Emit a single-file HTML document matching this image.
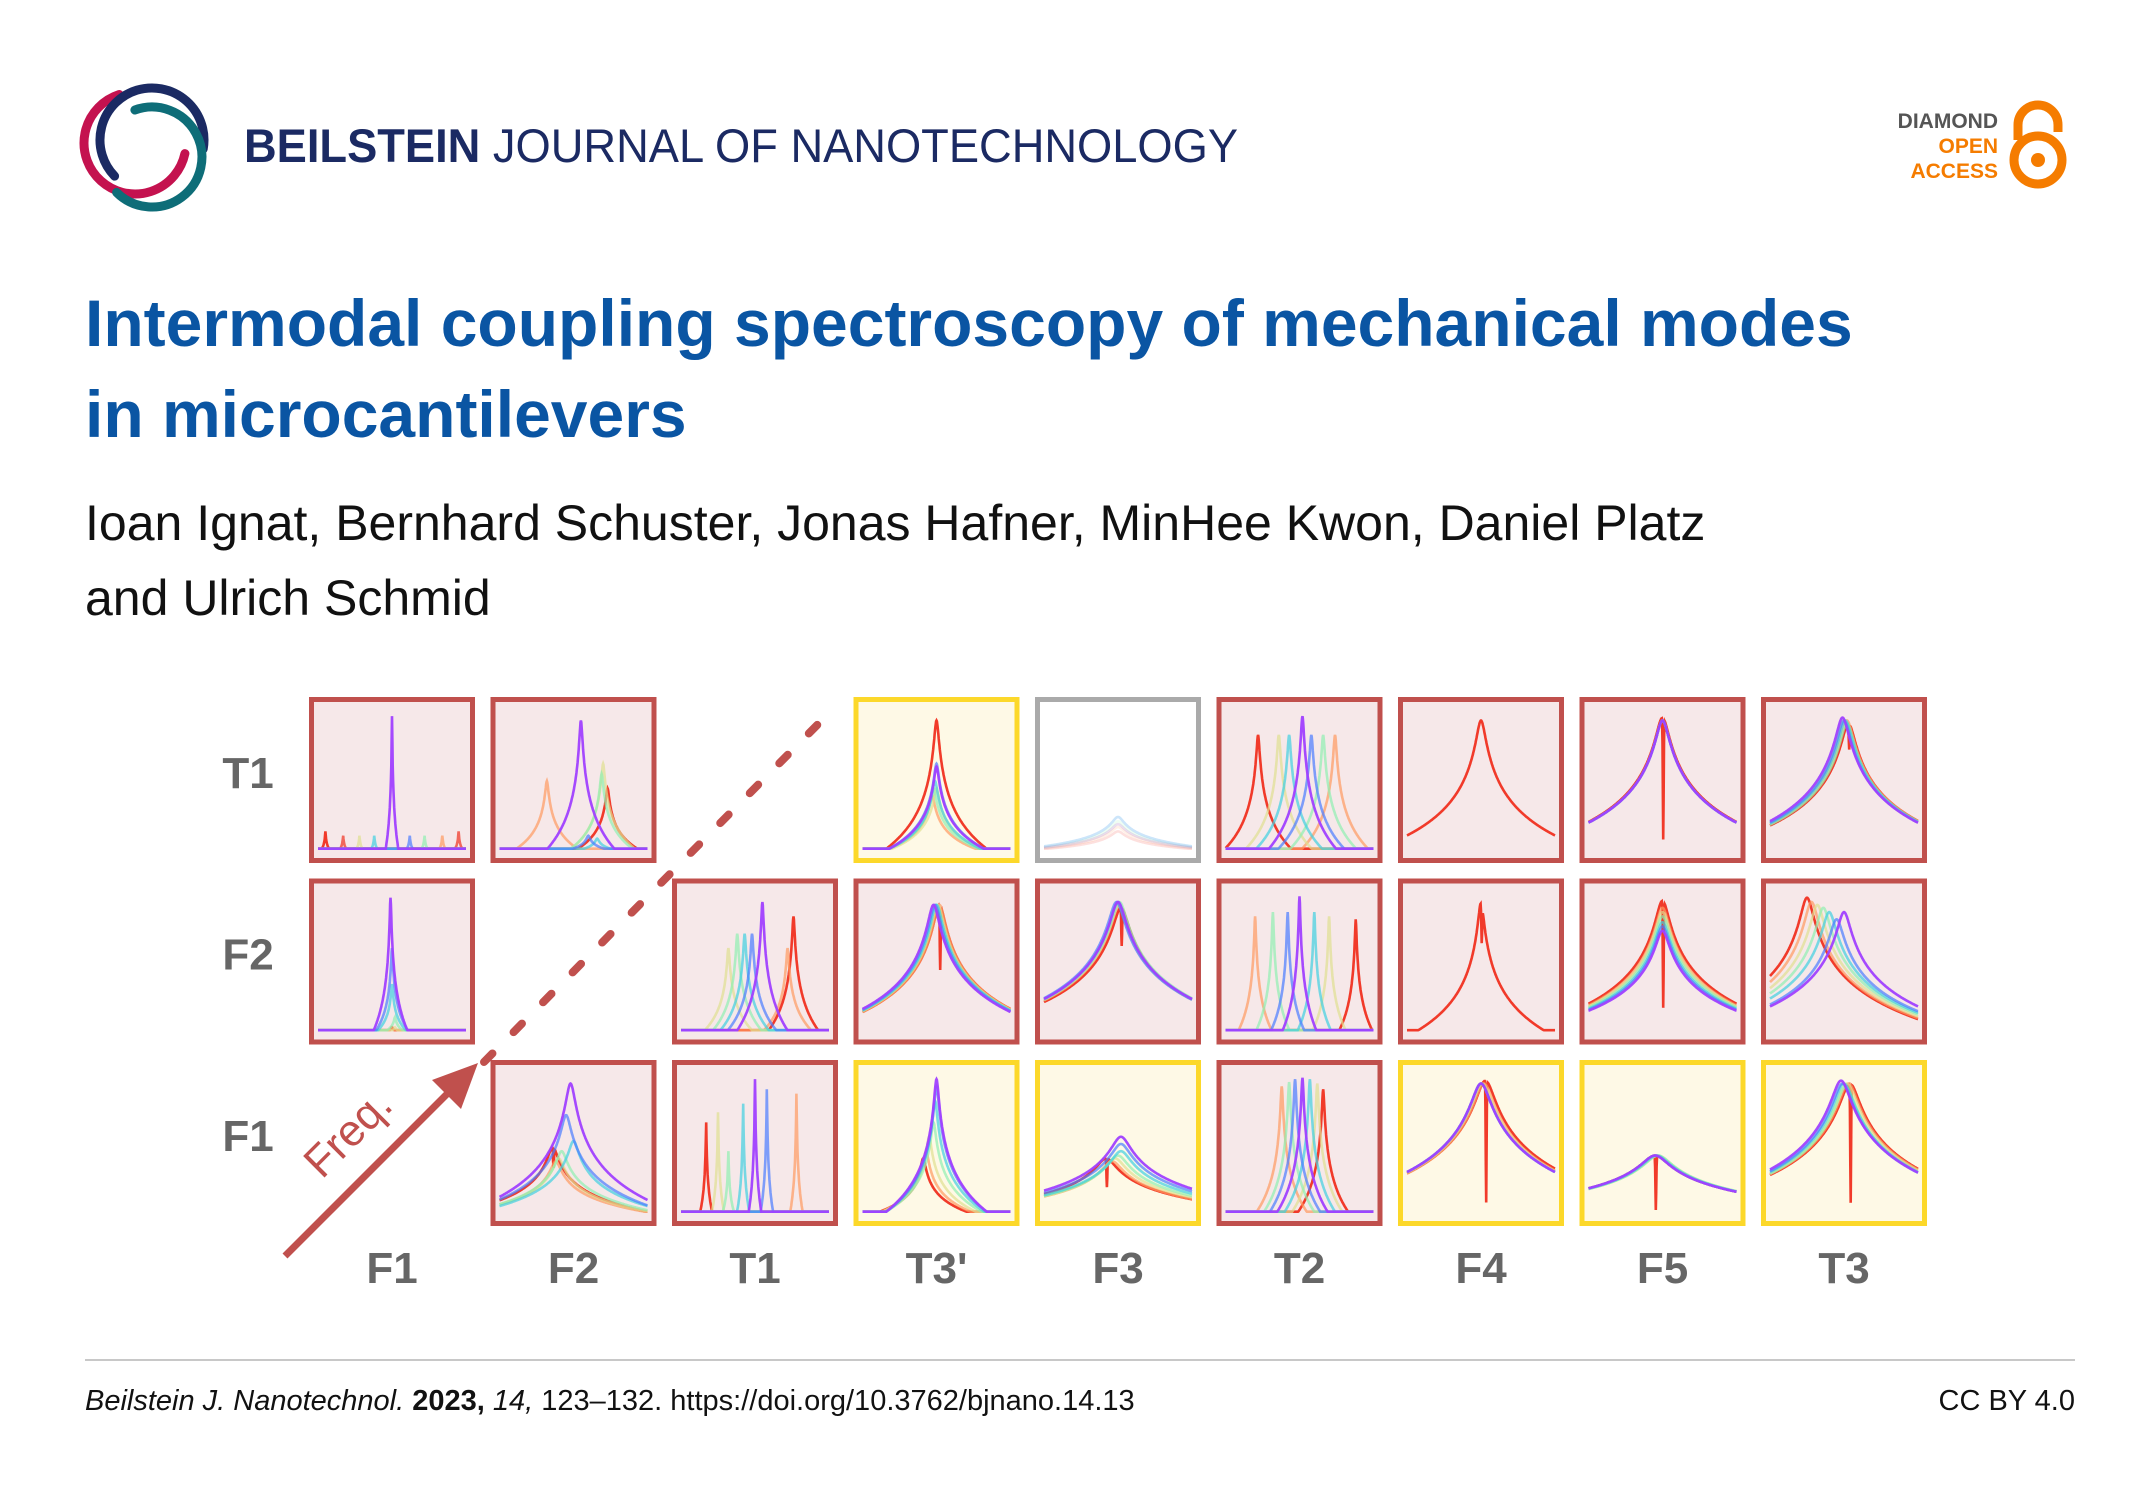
<!DOCTYPE html>
<html><head><meta charset="utf-8"><style>
html,body{margin:0;padding:0;background:#fff}
body{width:2150px;height:1505px;position:relative;overflow:hidden;font-family:"Liberation Sans",sans-serif}
.t{position:absolute;white-space:nowrap}
</style></head><body>
<svg width="2150" height="1505" style="position:absolute;left:0;top:0" id="main">
 <g fill="none" stroke-linecap="round">
  <path d="M119.2 94.5 A51 51 0 1 0 184.9 153.6" stroke="#c4124f" stroke-width="9"/>
  <path d="M114.6 176.1 A52 52 0 1 1 203.2 149" stroke="#1b2a63" stroke-width="9"/>
  <path d="M134.9 110 A50 50 0 1 1 116.6 192.4" stroke="#0e6d78" stroke-width="9"/>
 </g>
 <text x="244" y="162" font-size="47" fill="#1b2a63" font-family="Liberation Sans" textLength="994" lengthAdjust="spacingAndGlyphs"><tspan font-weight="bold">BEILSTEIN</tspan> JOURNAL OF NANOTECHNOLOGY</text>
 <g font-family="Liberation Sans" font-weight="bold" font-size="21" text-anchor="end">
  <text x="1998" y="128" fill="#555">DIAMOND</text>
  <text x="1998" y="153" fill="#f57c00">OPEN</text>
  <text x="1998" y="178" fill="#f57c00">ACCESS</text>
  <path d="M2018 140 L2018 125 A20 20 0 0 1 2058 125 L2058 132" fill="none" stroke="#f57c00" stroke-width="9"/>
  <circle cx="2038" cy="160" r="24" fill="none" stroke="#f57c00" stroke-width="9"/>
  <circle cx="2038" cy="160" r="7" fill="#f57c00"/>
 </g>
 <g id="grid"></g>
</svg>
<div class="t" style="left:85px;top:278px;font-size:66px;font-weight:bold;color:#0a55a3;line-height:91px">Intermodal coupling spectroscopy of mechanical modes<br>in microcantilevers</div>
<div class="t" style="left:85px;top:486px;font-size:50px;color:#111;line-height:75px">Ioan Ignat, Bernhard Schuster, Jonas Hafner, MinHee Kwon, Daniel Platz<br>and Ulrich Schmid</div>
<div style="position:absolute;left:85px;top:1359px;width:1990px;height:2px;background:#c8c8c8"></div>
<div class="t" style="left:85px;top:1385px;font-size:29px;color:#111"><i>Beilstein J. Nanotechnol.</i> <b>2023,</b> <i>14,</i> 123–132. https://doi.org/10.3762/bjnano.14.13</div>
<div class="t" style="right:75px;top:1385px;font-size:29px;color:#111">CC BY 4.0</div>
<script>
const colLabels=["F1","F2","T1","T3'","F3","T2","F4","F5","T3"];
const rowLabels=["T1","F2","F1"];
const panelTypes=[
 ["r","r","e","y","g","r","r","r","r"],
 ["r","e","r","r","r","r","r","r","r"],
 ["e","r","r","y","y","r","y","y","y"]];
const peakCenters=[
 [[.5,.62,.38,.72,.28,.84,.17,.95,.05],[.55,.6,.66,.69,.7,.32,.73],null,[.5,.5,.49,.48,.5,.47,.5],[.5,.5,.5,.5,.5,.5,.5],[.52,.58,.43,.66,.36,.74,.22],[.5],[.5,.5,.5,.5,.5,.5,.5],[.49,.5,.51,.52,.5,.52,.53]],
 [[.49,.5,.5,.52,.52,.5,.5],null,[.55,.48,.43,.38,.32,.72,.76],[.48,.49,.5,.5,.51,.52,.52],[.5,.49,.5,.51,.5,.51,.52],[.5,.42,.6,.32,.7,.2,.88],[.5],[.5,.5,.5,.5,.5,.5,.5],[.5,.45,.4,.36,.32,.28,.25]],
 [null,[.48,.45,.5,.42,.4,.38,.36],[.5,.58,.42,.32,.25,.78,.17],[.5,.5,.49,.48,.45,.43,.41],[.52,.52,.52,.5,.48,.46,.42],[.52,.47,.57,.43,.62,.38,.66],[.5,.5,.5,.5,.51,.52,.53],[.45,.45,.46,.47,.47,.45,.45],[.48,.49,.5,.51,.52,.53,.54]]];
const peakAmps=[
 [[.95,.12,.12,.12,.12,.12,.12,.15,.15],[.92,.12,.1,.55,.62,.5,.45],null,[.6,.62,.5,.45,.45,.4,.92],[.2,.25,.25,.22,.2,.18,.15],[.95,.82,.82,.82,.82,.82,.82],[.92],[.92,.92,.92,.92,.92,.92,.94],[.94,.92,.92,.9,.92,.92,.9]],
 [[.95,.6,.35,.12,.05,.05,.05],null,[.92,.7,.7,.7,.6,.6,.82],[.9,.9,.9,.9,.9,.9,.9],[.92,.92,.92,.92,.9,.9,.88],[.96,.85,.85,.85,.82,.82,.8],[.92],[.72,.75,.78,.82,.85,.88,.93],[.85,.8,.85,.88,.9,.92,.95]],
 [null,[.92,.7,.52,.45,.4,.38,.48],[.95,.88,.78,.45,.72,.85,.65],[.95,.9,.8,.65,.55,.45,.4],[.55,.5,.45,.42,.4,.38,.4],[.96,.95,.95,.93,.92,.9,.88],[.92,.92,.92,.92,.92,.92,.94],[.42,.42,.42,.42,.42,.42,.42],[.94,.92,.92,.9,.92,.92,.92]]];
const peakWidths=[[.0015,.008,null,.012,.03,.008,.025,.035,.035],[.004,null,.006,.03,.04,.004,.015,.035,.035],[null,.025,.0015,.012,.05,.006,.05,.07,.05]];
const notchDepths=[[0,0,0,0,0,0,0,.9,.2],[0,0,0,.5,.3,0,.3,.8,0],[0,.3,0,0,.5,0,.9,.9,.9]];
const seriesColors=["#a040ff","#4a7cff","#40d0e0","#90f0b0","#e0e090","#ff9a60","#f03020"];
const X0=309,PITCH=181.5,Y0=697,SIZE=166,DEC=3;
const ns="http://www.w3.org/2000/svg";
const g=document.getElementById('grid');
function mk(t,a){const e=document.createElementNS(ns,t);for(const k in a)e.setAttribute(k,a[k]);return e;}
function xs(c,v){return X0+c*PITCH+9+v*(SIZE-18);}
function ys(r,v){return Y0+r*PITCH+SIZE-10-v*(SIZE-22);}
for(let r=0;r<3;r++){
 const lab=mk('text',{x:248,y:Y0+r*PITCH+SIZE/2+8,'font-size':44,'font-weight':'bold',fill:'#666','text-anchor':'middle','font-family':'Liberation Sans'});
 
 
 lab.textContent=rowLabels[r];g.appendChild(lab);
 for(let c=0;c<9;c++){
  const tp=panelTypes[r][c];if(tp==='e')continue;
  const px=X0+c*PITCH,py=Y0+r*PITCH;
  const st={r:['#f6e8e9','#c0504d'],y:['#fef9e6','#fcd82a'],g:['#ffffff','#aaaaaa']}[tp];
  const grp=mk('g',{});
  
  
  grp.appendChild(mk('rect',{x:px+2.5,y:py+2.5,width:SIZE-5,height:SIZE-5,fill:st[0],stroke:st[1],'stroke-width':5}));
  const cs=peakCenters[r][c],as=peakAmps[r][c],w=peakWidths[r][c],nd=notchDepths[r][c];
  const n=cs.length;
  for(let s=n-1;s>=0;s--){
   let d='';
   for(let i=0;i<=400;i++){
    const v=i/400,u=(v-cs[s])/w;
    let y=as[s]*(1-Math.log10(1+u*u)/DEC);
    y=Math.max(.03,y);
    if(nd&&s===n-1)y-=nd*y*Math.exp(-Math.pow((v-cs[s]-.005)/.004,2));
    y=Math.max(0,Math.min(1,y));
    d+=(i?'L':'M')+xs(c,v).toFixed(1)+' '+ys(r,y).toFixed(1);
   }
   const col=n===1?seriesColors[6]:seriesColors[Math.min(6,Math.round(s*6/Math.min(n-1,6)))];
   const p=mk('path',{d:d,fill:'none',stroke:col,'stroke-width':2.6,opacity:tp==='g'?0.15:(s===0||s===n-1?0.95:0.7)});
   
   
   grp.appendChild(p);
  }
  g.appendChild(grp);
 }
}
for(let c=0;c<9;c++){
 const t=mk('text',{x:X0+c*PITCH+SIZE/2,y:1283,'font-size':44,'font-weight':'bold',fill:'#666','text-anchor':'middle','font-family':'Liberation Sans'});
 
 
 t.textContent=colLabels[c];g.appendChild(t);
}
const dl=mk('line',{x1:484,y1:1062,x2:834,y2:708,stroke:'#c0504d','stroke-width':8,'stroke-linecap':'round','stroke-dasharray':'12 30'});


g.appendChild(dl);
const ar=mk('line',{x1:285,y1:1256,x2:455,y2:1086,stroke:'#c0504d','stroke-width':7});


g.appendChild(ar);
const ah=mk('polygon',{points:'478,1063 432,1080 461,1109',fill:'#c0504d'});


g.appendChild(ah);
const fq=mk('text',{x:0,y:0,'font-size':44,fill:'#c0504d','font-family':'Liberation Sans',transform:'translate(322,1180) rotate(-45)'});


fq.textContent='Freq.';g.appendChild(fq);
</script>
</body></html>
